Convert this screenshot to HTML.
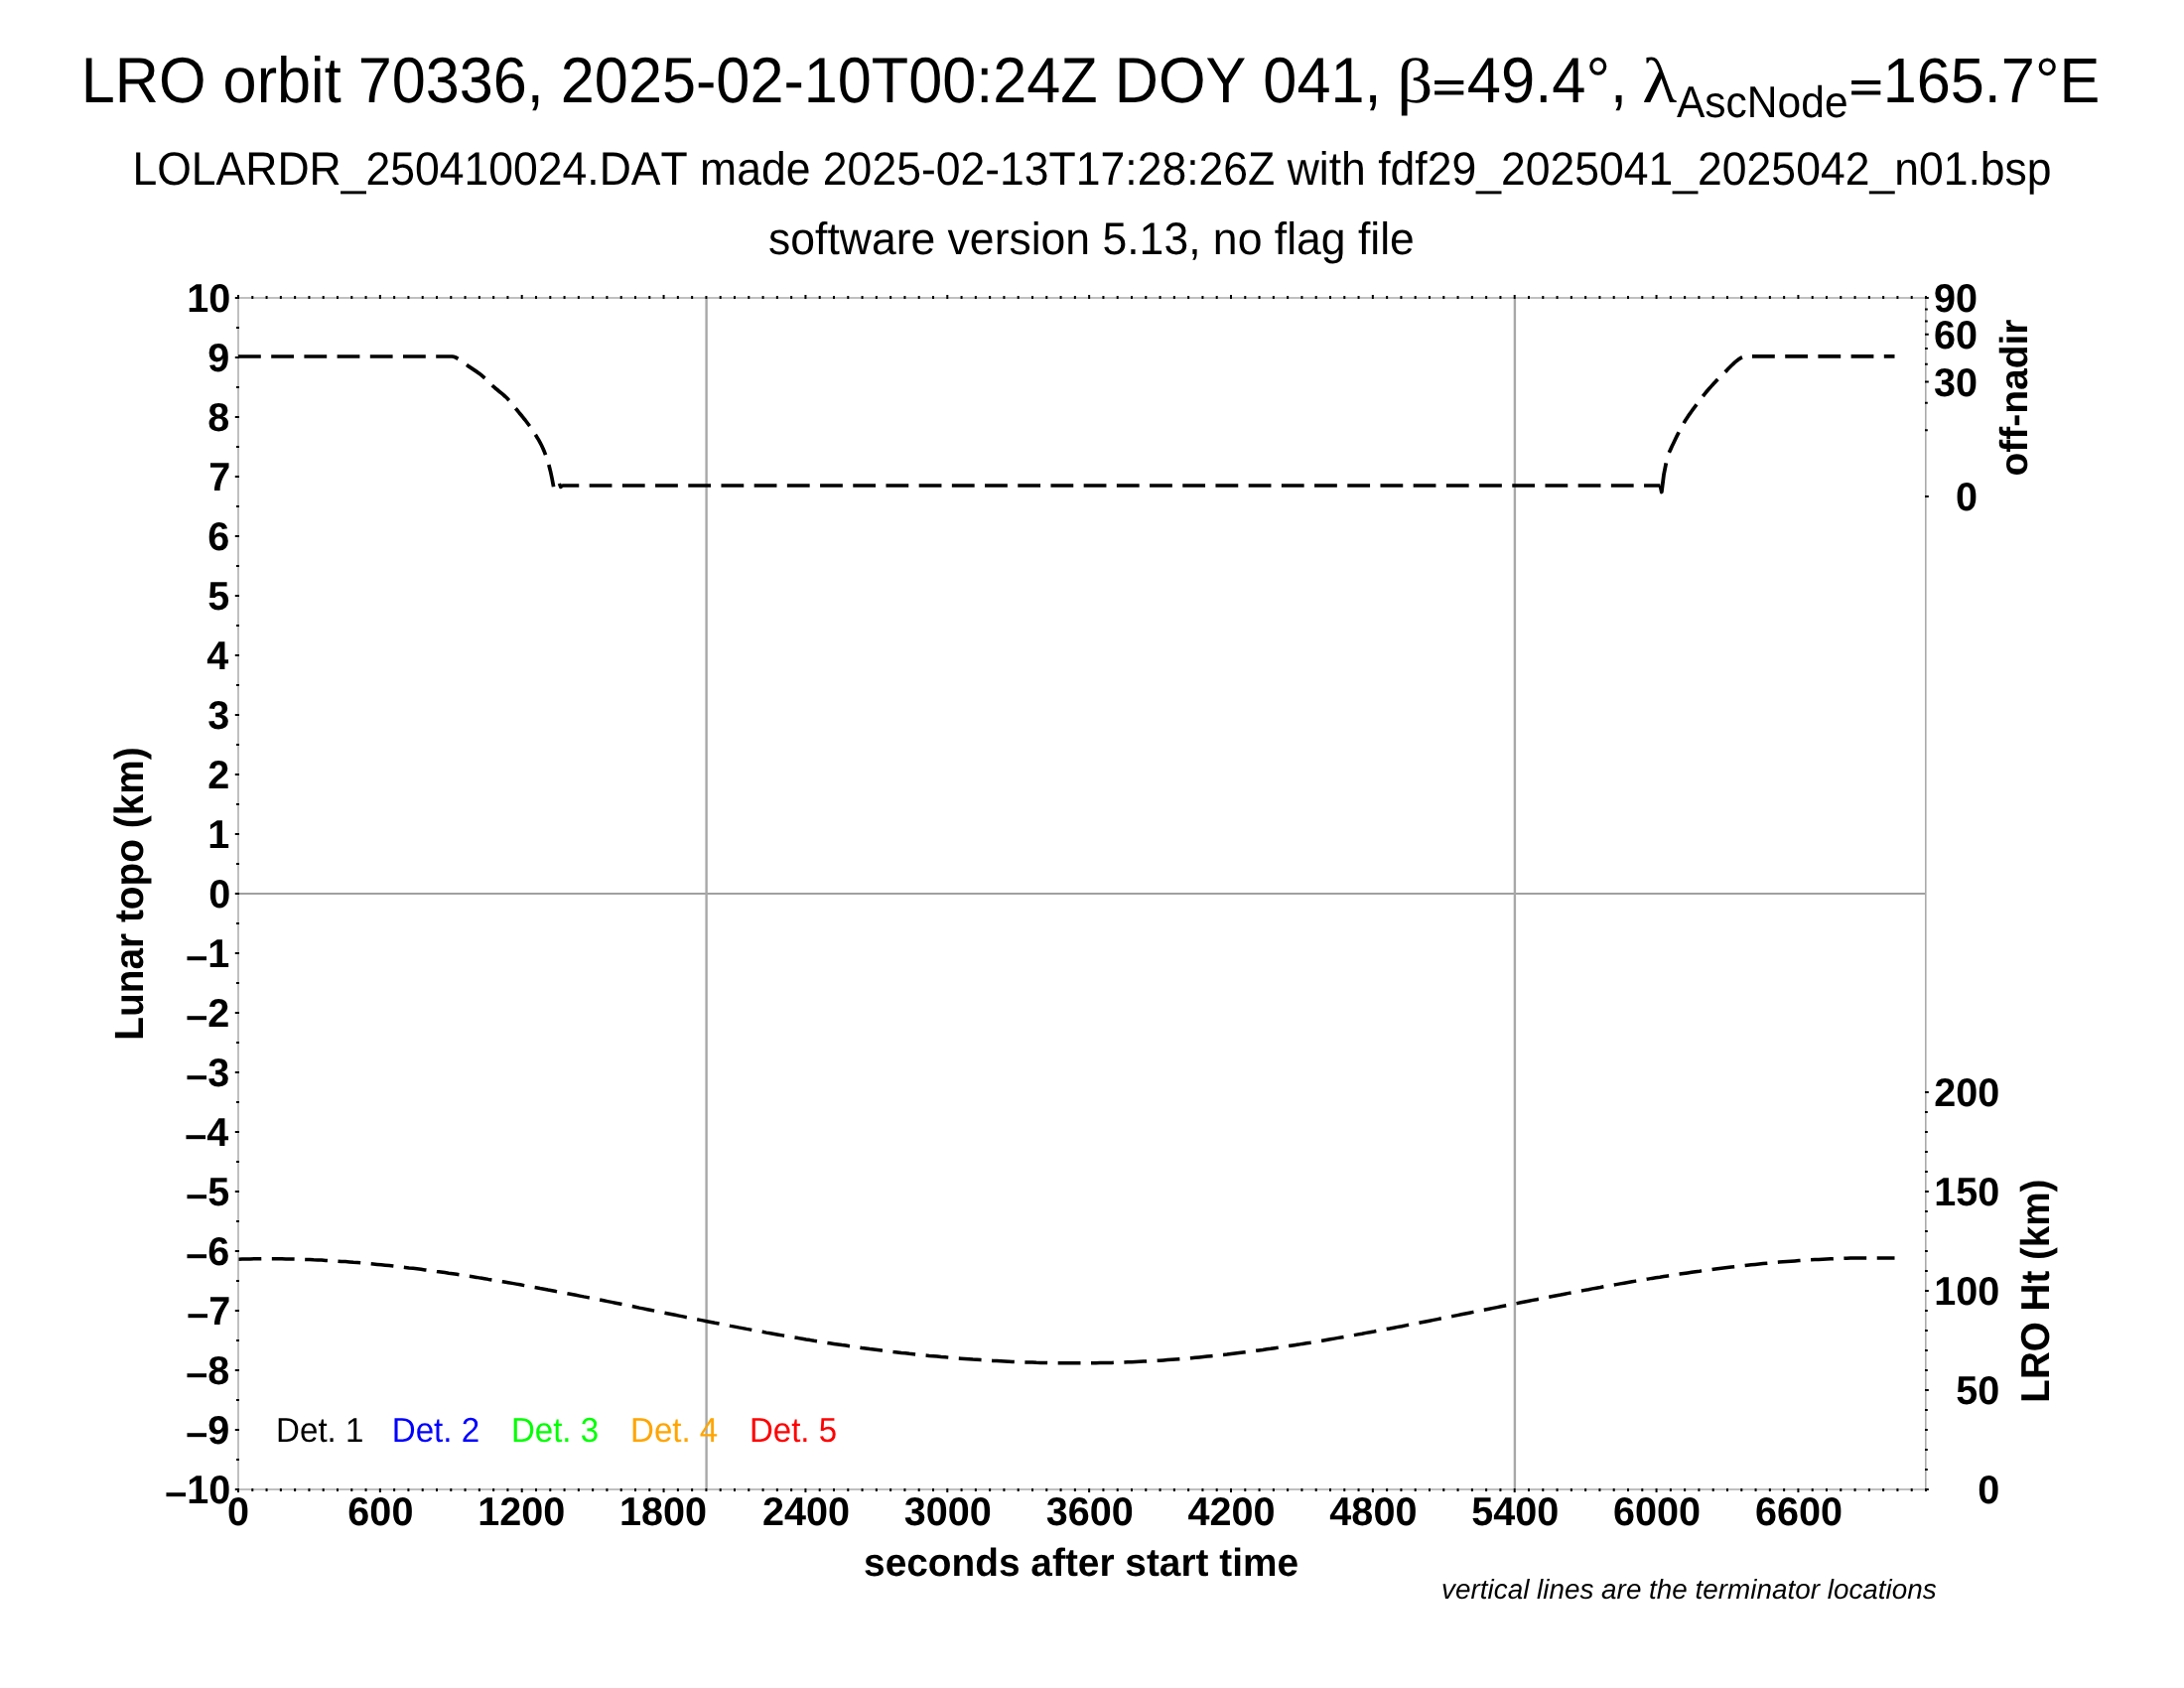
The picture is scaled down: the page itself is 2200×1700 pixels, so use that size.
<!DOCTYPE html>
<html><head><meta charset="utf-8"><title>LRO orbit 70336</title>
<style>html,body{margin:0;padding:0;background:#fff;width:2200px;height:1700px;overflow:hidden}svg{display:block;will-change:transform}text{font-kerning:none}</style>
</head><body>
<svg width="2200" height="1700" viewBox="0 0 2200 1700">
<rect width="2200" height="1700" fill="#fff"/>
<g fill="none">
<path d="M240 900H1940" stroke="#a0a0a0" stroke-width="2.2"/>
<path d="M711.6 300V1500" stroke="#a8a8a8" stroke-width="2.4"/>
<path d="M1525.9 300V1500" stroke="#a8a8a8" stroke-width="2.4"/>
<path d="M240 300V1500M240 300H1940M240 1500H1940" stroke="#c0c0c0" stroke-width="2"/>
<path d="M1939.5 299V1501" stroke="#aaaaaa" stroke-width="1"/><path d="M1940.5 299V1501" stroke="#cdcdcd" stroke-width="1"/>
<path d="M240.00 1499V1503.0M240.00 301V297.0M254.29 1499V1502.0M254.29 301V298.0M268.57 1499V1502.0M268.57 301V298.0M282.86 1499V1502.0M282.86 301V298.0M297.14 1499V1502.0M297.14 301V298.0M311.43 1499V1502.0M311.43 301V298.0M325.71 1499V1502.0M325.71 301V298.0M340.00 1499V1502.0M340.00 301V298.0M354.29 1499V1502.0M354.29 301V298.0M368.57 1499V1502.0M368.57 301V298.0M382.86 1499V1503.0M382.86 301V297.0M397.14 1499V1502.0M397.14 301V298.0M411.43 1499V1502.0M411.43 301V298.0M425.71 1499V1502.0M425.71 301V298.0M440.00 1499V1502.0M440.00 301V298.0M454.29 1499V1502.0M454.29 301V298.0M468.57 1499V1502.0M468.57 301V298.0M482.86 1499V1502.0M482.86 301V298.0M497.14 1499V1502.0M497.14 301V298.0M511.43 1499V1502.0M511.43 301V298.0M525.71 1499V1503.0M525.71 301V297.0M540.00 1499V1502.0M540.00 301V298.0M554.29 1499V1502.0M554.29 301V298.0M568.57 1499V1502.0M568.57 301V298.0M582.86 1499V1502.0M582.86 301V298.0M597.14 1499V1502.0M597.14 301V298.0M611.43 1499V1502.0M611.43 301V298.0M625.71 1499V1502.0M625.71 301V298.0M640.00 1499V1502.0M640.00 301V298.0M654.29 1499V1502.0M654.29 301V298.0M668.57 1499V1503.0M668.57 301V297.0M682.86 1499V1502.0M682.86 301V298.0M697.14 1499V1502.0M697.14 301V298.0M711.43 1499V1502.0M711.43 301V298.0M725.71 1499V1502.0M725.71 301V298.0M740.00 1499V1502.0M740.00 301V298.0M754.29 1499V1502.0M754.29 301V298.0M768.57 1499V1502.0M768.57 301V298.0M782.86 1499V1502.0M782.86 301V298.0M797.14 1499V1502.0M797.14 301V298.0M811.43 1499V1503.0M811.43 301V297.0M825.71 1499V1502.0M825.71 301V298.0M840.00 1499V1502.0M840.00 301V298.0M854.29 1499V1502.0M854.29 301V298.0M868.57 1499V1502.0M868.57 301V298.0M882.86 1499V1502.0M882.86 301V298.0M897.14 1499V1502.0M897.14 301V298.0M911.43 1499V1502.0M911.43 301V298.0M925.71 1499V1502.0M925.71 301V298.0M940.00 1499V1502.0M940.00 301V298.0M954.29 1499V1503.0M954.29 301V297.0M968.57 1499V1502.0M968.57 301V298.0M982.86 1499V1502.0M982.86 301V298.0M997.14 1499V1502.0M997.14 301V298.0M1011.43 1499V1502.0M1011.43 301V298.0M1025.71 1499V1502.0M1025.71 301V298.0M1040.00 1499V1502.0M1040.00 301V298.0M1054.29 1499V1502.0M1054.29 301V298.0M1068.57 1499V1502.0M1068.57 301V298.0M1082.86 1499V1502.0M1082.86 301V298.0M1097.14 1499V1503.0M1097.14 301V297.0M1111.43 1499V1502.0M1111.43 301V298.0M1125.71 1499V1502.0M1125.71 301V298.0M1140.00 1499V1502.0M1140.00 301V298.0M1154.29 1499V1502.0M1154.29 301V298.0M1168.57 1499V1502.0M1168.57 301V298.0M1182.86 1499V1502.0M1182.86 301V298.0M1197.14 1499V1502.0M1197.14 301V298.0M1211.43 1499V1502.0M1211.43 301V298.0M1225.71 1499V1502.0M1225.71 301V298.0M1240.00 1499V1503.0M1240.00 301V297.0M1254.29 1499V1502.0M1254.29 301V298.0M1268.57 1499V1502.0M1268.57 301V298.0M1282.86 1499V1502.0M1282.86 301V298.0M1297.14 1499V1502.0M1297.14 301V298.0M1311.43 1499V1502.0M1311.43 301V298.0M1325.71 1499V1502.0M1325.71 301V298.0M1340.00 1499V1502.0M1340.00 301V298.0M1354.29 1499V1502.0M1354.29 301V298.0M1368.57 1499V1502.0M1368.57 301V298.0M1382.86 1499V1503.0M1382.86 301V297.0M1397.14 1499V1502.0M1397.14 301V298.0M1411.43 1499V1502.0M1411.43 301V298.0M1425.71 1499V1502.0M1425.71 301V298.0M1440.00 1499V1502.0M1440.00 301V298.0M1454.29 1499V1502.0M1454.29 301V298.0M1468.57 1499V1502.0M1468.57 301V298.0M1482.86 1499V1502.0M1482.86 301V298.0M1497.14 1499V1502.0M1497.14 301V298.0M1511.43 1499V1502.0M1511.43 301V298.0M1525.71 1499V1503.0M1525.71 301V297.0M1540.00 1499V1502.0M1540.00 301V298.0M1554.29 1499V1502.0M1554.29 301V298.0M1568.57 1499V1502.0M1568.57 301V298.0M1582.86 1499V1502.0M1582.86 301V298.0M1597.14 1499V1502.0M1597.14 301V298.0M1611.43 1499V1502.0M1611.43 301V298.0M1625.71 1499V1502.0M1625.71 301V298.0M1640.00 1499V1502.0M1640.00 301V298.0M1654.29 1499V1502.0M1654.29 301V298.0M1668.57 1499V1503.0M1668.57 301V297.0M1682.86 1499V1502.0M1682.86 301V298.0M1697.14 1499V1502.0M1697.14 301V298.0M1711.43 1499V1502.0M1711.43 301V298.0M1725.71 1499V1502.0M1725.71 301V298.0M1740.00 1499V1502.0M1740.00 301V298.0M1754.29 1499V1502.0M1754.29 301V298.0M1768.57 1499V1502.0M1768.57 301V298.0M1782.86 1499V1502.0M1782.86 301V298.0M1797.14 1499V1502.0M1797.14 301V298.0M1811.43 1499V1503.0M1811.43 301V297.0M1825.71 1499V1502.0M1825.71 301V298.0M1840.00 1499V1502.0M1840.00 301V298.0M1854.29 1499V1502.0M1854.29 301V298.0M1868.57 1499V1502.0M1868.57 301V298.0M1882.86 1499V1502.0M1882.86 301V298.0M1897.14 1499V1502.0M1897.14 301V298.0M1911.43 1499V1502.0M1911.43 301V298.0M1925.71 1499V1502.0M1925.71 301V298.0M1940.00 1499V1502.0M1940.00 301V298.0M241.0 300.00H236.8M241.0 330.00H238.0M241.0 360.00H236.8M241.0 390.00H238.0M241.0 420.00H236.8M241.0 450.00H238.0M241.0 480.00H236.8M241.0 510.00H238.0M241.0 540.00H236.8M241.0 570.00H238.0M241.0 600.00H236.8M241.0 630.00H238.0M241.0 660.00H236.8M241.0 690.00H238.0M241.0 720.00H236.8M241.0 750.00H238.0M241.0 780.00H236.8M241.0 810.00H238.0M241.0 840.00H236.8M241.0 870.00H238.0M241.0 900.00H236.8M241.0 930.00H238.0M241.0 960.00H236.8M241.0 990.00H238.0M241.0 1020.00H236.8M241.0 1050.00H238.0M241.0 1080.00H236.8M241.0 1110.00H238.0M241.0 1140.00H236.8M241.0 1170.00H238.0M241.0 1200.00H236.8M241.0 1230.00H238.0M241.0 1260.00H236.8M241.0 1290.00H238.0M241.0 1320.00H236.8M241.0 1350.00H238.0M241.0 1380.00H236.8M241.0 1410.00H238.0M241.0 1440.00H236.8M241.0 1470.00H238.0M241.0 1500.00H236.8M1939.0 500.00H1942.8M1939.0 433.33H1941.8M1939.0 405.72H1941.8M1939.0 384.53H1942.8M1939.0 366.67H1941.8M1939.0 350.93H1941.8M1939.0 336.70H1942.8M1939.0 323.62H1941.8M1939.0 311.44H1941.8M1939.0 300.00H1942.8M1939.0 1500.00H1942.8M1939.0 1480.00H1941.8M1939.0 1460.00H1941.8M1939.0 1440.00H1941.8M1939.0 1420.00H1941.8M1939.0 1400.00H1942.8M1939.0 1380.00H1941.8M1939.0 1360.00H1941.8M1939.0 1340.00H1941.8M1939.0 1320.00H1941.8M1939.0 1300.00H1942.8M1939.0 1280.00H1941.8M1939.0 1260.00H1941.8M1939.0 1240.00H1941.8M1939.0 1220.00H1941.8M1939.0 1200.00H1942.8M1939.0 1180.00H1941.8M1939.0 1160.00H1941.8M1939.0 1140.00H1941.8M1939.0 1120.00H1941.8M1939.0 1100.00H1942.8" stroke="#000" stroke-width="2" fill="none"/>
<path d="M240.0 359.0 L455.5 359.0 L457.0 359.3 L458.5 359.8 L460.0 360.5 L461.5 361.3 L463.0 362.3 L464.5 363.3 L466.0 364.4 L467.5 365.6 L469.0 366.7 L470.5 367.8 L472.0 368.9 L473.5 369.9 L475.0 370.9 L476.5 371.9 L478.0 372.9 L479.5 373.9 L481.0 374.9 L482.5 376.0 L484.0 377.1 L485.5 378.3 L487.0 379.6 L488.5 380.9 L490.0 382.3 L491.5 383.8 L493.0 385.3 L494.5 386.8 L496.0 388.3 L497.5 389.7 L499.0 391.0 L500.5 392.2 L502.0 393.5 L503.5 394.7 L505.0 395.9 L506.5 397.2 L508.0 398.5 L509.5 399.8 L511.0 401.3 L512.5 402.9 L514.0 404.6 L515.5 406.4 L517.0 408.2 L518.5 410.1 L520.0 412.0 L521.5 413.8 L523.0 415.7 L524.5 417.5 L526.0 419.3 L527.5 421.2 L529.0 423.0 L530.5 425.0 L532.0 427.0 L533.5 429.0 L535.0 431.2 L536.5 433.4 L538.0 435.7 L539.5 438.0 L541.0 440.4 L542.5 442.9 L544.0 445.6 L545.5 448.5 L547.0 451.7 L548.5 455.3 L550.0 459.2 L551.5 463.6 L553.0 468.8 L554.5 474.7 L556.0 481.6 L557.5 489.6 L557.6 490.2" stroke="#000" stroke-width="3.7" fill="none" stroke-dasharray="22.8 10.4" stroke-linejoin="round"/>
<path d="M563.4 487.0 L564.7 490.5 L567.0 488.9 L1672.4 488.9" stroke="#000" stroke-width="3.5" fill="none" stroke-dasharray="22.8 10.4" stroke-linejoin="round"/>
<path d="M1681.3 455.8 L1682.8 452.6 L1684.3 449.3 L1685.8 446.2 L1687.3 443.0 L1688.8 439.9 L1690.3 436.9 L1691.8 433.9 L1693.3 431.1 L1694.8 428.4 L1696.3 425.8 L1697.8 423.3 L1699.3 421.0 L1700.8 418.7 L1702.3 416.6 L1703.8 414.5 L1705.3 412.4 L1706.8 410.4 L1708.3 408.4 L1709.8 406.4 L1711.3 404.4 L1712.8 402.4 L1714.3 400.5 L1715.8 398.5 L1717.3 396.6 L1718.8 394.8 L1720.3 393.0 L1721.8 391.3 L1723.3 389.6 L1724.8 387.9 L1726.3 386.3 L1727.8 384.7 L1729.3 383.1 L1730.8 381.6 L1732.3 380.1 L1733.8 378.6 L1735.3 377.1 L1736.8 375.6 L1738.3 374.1 L1739.8 372.6 L1741.3 371.0 L1742.8 369.5 L1744.3 368.0 L1745.8 366.6 L1747.3 365.2 L1748.8 363.9 L1750.3 362.7 L1751.8 361.6 L1753.3 360.7 L1754.8 359.8 L1756.3 359.2 L1757.8 358.6 L1759.3 358.3 L1760.8 358.2 L1762.3 358.3 L1763.8 358.6 L1764.4 358.8 L1908.5 358.8" stroke="#000" stroke-width="3.7" fill="none" stroke-dasharray="22.8 10.4" stroke-linejoin="round"/>
<path d="M1672.4 488.9 L1673.8 495.5 L1676.0 478.0 L1678.3 466.4" stroke="#000" stroke-width="3.8" fill="none" stroke-linejoin="round"/>
<path d="M240.0 1268.2 L244.0 1268.1 L248.0 1268.0 L252.0 1267.9 L256.0 1267.8 L260.0 1267.8 L264.0 1267.7 L268.0 1267.7 L272.0 1267.7 L276.0 1267.7 L280.0 1267.8 L284.0 1267.8 L288.0 1267.9 L292.0 1268.0 L296.0 1268.1 L300.0 1268.2 L304.0 1268.3 L308.0 1268.4 L312.0 1268.6 L316.0 1268.8 L320.0 1268.9 L324.0 1269.1 L328.0 1269.4 L332.0 1269.6 L336.0 1269.8 L340.0 1270.1 L344.0 1270.4 L348.0 1270.6 L352.0 1270.9 L356.0 1271.3 L360.0 1271.6 L364.0 1271.9 L368.0 1272.3 L372.0 1272.6 L376.0 1273.0 L380.0 1273.4 L384.0 1273.8 L388.0 1274.2 L392.0 1274.6 L396.0 1275.0 L400.0 1275.5 L404.0 1275.9 L408.0 1276.4 L412.0 1276.9 L416.0 1277.3 L420.0 1277.8 L424.0 1278.3 L428.0 1278.9 L432.0 1279.4 L436.0 1279.9 L440.0 1280.5 L444.0 1281.0 L448.0 1281.6 L452.0 1282.2 L456.0 1282.7 L460.0 1283.3 L464.0 1283.9 L468.0 1284.5 L472.0 1285.2 L476.0 1285.8 L480.0 1286.4 L484.0 1287.1 L488.0 1287.7 L492.0 1288.4 L496.0 1289.0 L500.0 1289.7 L504.0 1290.4 L508.0 1291.0 L512.0 1291.7 L516.0 1292.4 L520.0 1293.1 L524.0 1293.8 L528.0 1294.6 L532.0 1295.3 L536.0 1296.0 L540.0 1296.7 L544.0 1297.5 L548.0 1298.2 L552.0 1299.0 L556.0 1299.7 L560.0 1300.5 L564.0 1301.2 L568.0 1302.0 L572.0 1302.8 L576.0 1303.5 L580.0 1304.3 L584.0 1305.1 L588.0 1305.9 L592.0 1306.6 L596.0 1307.4 L600.0 1308.2 L604.0 1309.0 L608.0 1309.8 L612.0 1310.6 L616.0 1311.4 L620.0 1312.2 L624.0 1313.0 L628.0 1313.8 L632.0 1314.6 L636.0 1315.4 L640.0 1316.2 L644.0 1317.1 L648.0 1317.9 L652.0 1318.7 L656.0 1319.5 L660.0 1320.3 L664.0 1321.1 L668.0 1321.9 L672.0 1322.7 L676.0 1323.5 L680.0 1324.3 L684.0 1325.1 L688.0 1325.9 L692.0 1326.7 L696.0 1327.5 L700.0 1328.3 L704.0 1329.1 L708.0 1329.9 L712.0 1330.7 L716.0 1331.5 L720.0 1332.3 L724.0 1333.0 L728.0 1333.8 L732.0 1334.6 L736.0 1335.4 L740.0 1336.1 L744.0 1336.9 L748.0 1337.6 L752.0 1338.4 L756.0 1339.1 L760.0 1339.9 L764.0 1340.6 L768.0 1341.3 L772.0 1342.1 L776.0 1342.8 L780.0 1343.5 L784.0 1344.2 L788.0 1344.9 L792.0 1345.6 L796.0 1346.3 L800.0 1347.0 L804.0 1347.6 L808.0 1348.3 L812.0 1349.0 L816.0 1349.6 L820.0 1350.3 L824.0 1350.9 L828.0 1351.5 L832.0 1352.2 L836.0 1352.8 L840.0 1353.4 L844.0 1354.0 L848.0 1354.6 L852.0 1355.1 L856.0 1355.7 L860.0 1356.3 L864.0 1356.8 L868.0 1357.4 L872.0 1357.9 L876.0 1358.5 L880.0 1359.0 L884.0 1359.5 L888.0 1360.0 L892.0 1360.5 L896.0 1361.0 L900.0 1361.5 L904.0 1361.9 L908.0 1362.4 L912.0 1362.8 L916.0 1363.3 L920.0 1363.7 L924.0 1364.1 L928.0 1364.6 L932.0 1365.0 L936.0 1365.4 L940.0 1365.7 L944.0 1366.1 L948.0 1366.5 L952.0 1366.8 L956.0 1367.2 L960.0 1367.5 L964.0 1367.9 L968.0 1368.2 L972.0 1368.5 L976.0 1368.8 L980.0 1369.1 L984.0 1369.3 L988.0 1369.6 L992.0 1369.9 L996.0 1370.1 L1000.0 1370.4 L1004.0 1370.6 L1008.0 1370.8 L1012.0 1371.0 L1016.0 1371.2 L1020.0 1371.4 L1024.0 1371.6 L1028.0 1371.7 L1032.0 1371.9 L1036.0 1372.0 L1040.0 1372.1 L1044.0 1372.3 L1048.0 1372.4 L1052.0 1372.5 L1056.0 1372.6 L1060.0 1372.6 L1064.0 1372.7 L1068.0 1372.7 L1072.0 1372.8 L1076.0 1372.8 L1080.0 1372.8 L1084.0 1372.8 L1088.0 1372.8 L1092.0 1372.8 L1096.0 1372.8 L1100.0 1372.7 L1104.0 1372.7 L1108.0 1372.6 L1112.0 1372.5 L1116.0 1372.5 L1120.0 1372.4 L1124.0 1372.2 L1128.0 1372.1 L1132.0 1372.0 L1136.0 1371.8 L1140.0 1371.7 L1144.0 1371.5 L1148.0 1371.3 L1152.0 1371.1 L1156.0 1370.9 L1160.0 1370.7 L1164.0 1370.4 L1168.0 1370.2 L1172.0 1369.9 L1176.0 1369.6 L1180.0 1369.3 L1184.0 1369.0 L1188.0 1368.7 L1192.0 1368.4 L1196.0 1368.0 L1200.0 1367.7 L1204.0 1367.3 L1208.0 1366.9 L1212.0 1366.5 L1216.0 1366.1 L1220.0 1365.7 L1224.0 1365.3 L1228.0 1364.9 L1232.0 1364.4 L1236.0 1364.0 L1240.0 1363.5 L1244.0 1363.0 L1248.0 1362.5 L1252.0 1362.0 L1256.0 1361.5 L1260.0 1361.0 L1264.0 1360.5 L1268.0 1359.9 L1272.0 1359.4 L1276.0 1358.8 L1280.0 1358.3 L1284.0 1357.7 L1288.0 1357.1 L1292.0 1356.5 L1296.0 1355.9 L1300.0 1355.3 L1304.0 1354.7 L1308.0 1354.1 L1312.0 1353.4 L1316.0 1352.8 L1320.0 1352.2 L1324.0 1351.5 L1328.0 1350.8 L1332.0 1350.2 L1336.0 1349.5 L1340.0 1348.8 L1344.0 1348.1 L1348.0 1347.4 L1352.0 1346.7 L1356.0 1346.0 L1360.0 1345.3 L1364.0 1344.6 L1368.0 1343.9 L1372.0 1343.2 L1376.0 1342.4 L1380.0 1341.7 L1384.0 1341.0 L1388.0 1340.2 L1392.0 1339.5 L1396.0 1338.7 L1400.0 1338.0 L1404.0 1337.2 L1408.0 1336.4 L1412.0 1335.7 L1416.0 1334.9 L1420.0 1334.1 L1424.0 1333.3 L1428.0 1332.6 L1432.0 1331.8 L1436.0 1331.0 L1440.0 1330.2 L1444.0 1329.4 L1448.0 1328.6 L1452.0 1327.8 L1456.0 1327.0 L1460.0 1326.2 L1464.0 1325.4 L1468.0 1324.6 L1472.0 1323.8 L1476.0 1323.0 L1480.0 1322.2 L1484.0 1321.4 L1488.0 1320.6 L1492.0 1319.8 L1496.0 1319.0 L1500.0 1318.2 L1504.0 1317.4 L1508.0 1316.6 L1512.0 1315.8 L1516.0 1315.0 L1520.0 1314.2 L1524.0 1313.4 L1528.0 1312.6 L1532.0 1311.8 L1536.0 1311.0 L1540.0 1310.2 L1544.0 1309.4 L1548.0 1308.7 L1552.0 1307.9 L1556.0 1307.1 L1560.0 1306.3 L1564.0 1305.5 L1568.0 1304.7 L1572.0 1304.0 L1576.0 1303.2 L1580.0 1302.4 L1584.0 1301.7 L1588.0 1300.9 L1592.0 1300.2 L1596.0 1299.4 L1600.0 1298.7 L1604.0 1297.9 L1608.0 1297.2 L1612.0 1296.5 L1616.0 1295.7 L1620.0 1295.0 L1624.0 1294.3 L1628.0 1293.6 L1632.0 1292.9 L1636.0 1292.2 L1640.0 1291.5 L1644.0 1290.8 L1648.0 1290.1 L1652.0 1289.4 L1656.0 1288.8 L1660.0 1288.1 L1664.0 1287.4 L1668.0 1286.8 L1672.0 1286.2 L1676.0 1285.5 L1680.0 1284.9 L1684.0 1284.3 L1688.0 1283.7 L1692.0 1283.1 L1696.0 1282.5 L1700.0 1281.9 L1704.0 1281.3 L1708.0 1280.7 L1712.0 1280.2 L1716.0 1279.6 L1720.0 1279.1 L1724.0 1278.6 L1728.0 1278.0 L1732.0 1277.5 L1736.0 1277.0 L1740.0 1276.5 L1744.0 1276.0 L1748.0 1275.6 L1752.0 1275.1 L1756.0 1274.7 L1760.0 1274.2 L1764.0 1273.8 L1768.0 1273.4 L1772.0 1273.0 L1776.0 1272.6 L1780.0 1272.2 L1784.0 1271.8 L1788.0 1271.5 L1792.0 1271.1 L1796.0 1270.8 L1800.0 1270.5 L1804.0 1270.2 L1808.0 1269.9 L1812.0 1269.6 L1816.0 1269.3 L1820.0 1269.0 L1824.0 1268.8 L1828.0 1268.6 L1832.0 1268.4 L1836.0 1268.2 L1840.0 1268.0 L1844.0 1267.8 L1848.0 1267.6 L1852.0 1267.5 L1856.0 1267.4 L1860.0 1267.2 L1864.0 1267.1 L1868.0 1267.1 L1872.0 1267.0 L1876.0 1266.9 L1880.0 1266.9 L1884.0 1266.9 L1888.0 1266.9 L1892.0 1266.9 L1896.0 1266.9 L1900.0 1267.0 L1904.0 1267.0 L1908.0 1267.1 L1908.5 1267.1" stroke="#000" stroke-width="3.5" fill="none" stroke-dasharray="22.8 10.54" stroke-dashoffset="-0.5" stroke-linejoin="round"/>
</g>
<g text-rendering="geometricPrecision">
<text transform="matrix(1.0032 0 0 1.0620 81.78 103.10)" font-family="Liberation Sans" font-size="61" font-weight="normal" font-style="normal" fill="#000">LRO orbit 70336, 2025-02-10T00:24Z DOY 041,</text>
<text transform="matrix(1.1667 0 0 1.0429 1407.23 102.74)" font-family="Liberation Serif" font-size="61" font-weight="normal" font-style="normal" fill="#000">β</text>
<text transform="matrix(0.9400 0 0 0.6850 1442.88 102.35)" font-family="Liberation Sans" font-size="61" font-weight="normal" font-style="normal" fill="#000" stroke="#000" stroke-width="1.4">=</text>
<text transform="matrix(1.0078 0 0 1.0620 1477.79 103.10)" font-family="Liberation Sans" font-size="61" font-weight="normal" font-style="normal" fill="#000">49.4°,</text>
<text transform="matrix(1.1815 0 0 1.0605 1654.14 103.30)" font-family="Liberation Serif" font-size="61" font-weight="normal" font-style="normal" fill="#000">λ</text>
<text transform="matrix(0.9896 0 0 1.0381 1688.90 117.60)" font-family="Liberation Sans" font-size="43" font-weight="normal" font-style="normal" fill="#000">AscNode</text>
<text transform="matrix(0.9400 0 0 0.6850 1862.98 102.35)" font-family="Liberation Sans" font-size="61" font-weight="normal" font-style="normal" fill="#000" stroke="#000" stroke-width="1.4">=</text>
<text transform="matrix(1.0040 0 0 1.0478 1896.64 103.00)" font-family="Liberation Sans" font-size="61" font-weight="normal" font-style="normal" fill="#000">165.7°E</text>
<text transform="matrix(0.9984 0 0 1.0561 133.41 186.20)" font-family="Liberation Sans" font-size="44.6" font-weight="normal" font-style="normal" fill="#000">LOLARDR_250410024.DAT made 2025-02-13T17:28:26Z with fdf29_2025041_2025042_n01.bsp</text>
<text transform="matrix(0.9983 0 0 1.0245 774.00 256.00)" font-family="Liberation Sans" font-size="44.6" font-weight="normal" font-style="normal" fill="#000">software version 5.13, no flag file</text>
<text transform="matrix(0.9955 0 0 1.0114 870.06 1586.90)" font-family="Liberation Sans" font-size="39" font-weight="bold" font-style="normal" fill="#000">seconds after start time</text>
<text transform="matrix(0.9950 0 0 0.9921 1452.08 1609.90)" font-family="Liberation Sans" font-size="28" font-weight="normal" font-style="italic" fill="#000">vertical lines are the terminator locations</text>
<text transform="matrix(1.0030 0 0 1.0518 278.09 1451.75)" font-family="Liberation Sans" font-size="33" font-weight="normal" font-style="normal" fill="#000000">Det. 1</text>
<text transform="matrix(1.0060 0 0 1.0518 394.68 1451.75)" font-family="Liberation Sans" font-size="33" font-weight="normal" font-style="normal" fill="#0000ff">Det. 2</text>
<text transform="matrix(1.0012 0 0 1.0518 514.90 1451.75)" font-family="Liberation Sans" font-size="33" font-weight="normal" font-style="normal" fill="#00ff00">Det. 3</text>
<text transform="matrix(1.0024 0 0 1.0518 634.99 1451.75)" font-family="Liberation Sans" font-size="33" font-weight="normal" font-style="normal" fill="#ffa500">Det. 4</text>
<text transform="matrix(1.0012 0 0 1.0518 754.90 1451.75)" font-family="Liberation Sans" font-size="33" font-weight="normal" font-style="normal" fill="#ff0000">Det. 5</text>
<text transform="matrix(0 -0.9952 1.0479 0 144.00 1047.69)" font-family="Liberation Sans" font-size="39" font-weight="bold" fill="#000">Lunar topo (km)</text>
<text transform="matrix(0 -0.9994 1.0007 0 2041.90 479.60)" font-family="Liberation Sans" font-size="39" font-weight="bold" fill="#000">off-nadir</text>
<text transform="matrix(0 -0.9897 1.0368 0 2063.80 1412.67)" font-family="Liberation Sans" font-size="39" font-weight="bold" fill="#000">LRO Ht (km)</text>
<text transform="matrix(1 0 0 1.0172 188.20 314.20)" font-family="Liberation Sans" font-size="39.6" font-weight="bold">10</text>
<text transform="matrix(1 0 0 1.0172 209.20 374.20)" font-family="Liberation Sans" font-size="39.6" font-weight="bold">9</text>
<text transform="matrix(1 0 0 1.0172 209.20 434.20)" font-family="Liberation Sans" font-size="39.6" font-weight="bold">8</text>
<text transform="matrix(1 0 0 1.0172 210.20 494.20)" font-family="Liberation Sans" font-size="39.6" font-weight="bold">7</text>
<text transform="matrix(1 0 0 1.0172 209.20 554.20)" font-family="Liberation Sans" font-size="39.6" font-weight="bold">6</text>
<text transform="matrix(1 0 0 1.0172 209.20 614.20)" font-family="Liberation Sans" font-size="39.6" font-weight="bold">5</text>
<text transform="matrix(1 0 0 1.0172 208.20 674.20)" font-family="Liberation Sans" font-size="39.6" font-weight="bold">4</text>
<text transform="matrix(1 0 0 1.0172 209.20 734.20)" font-family="Liberation Sans" font-size="39.6" font-weight="bold">3</text>
<text transform="matrix(1 0 0 1.0172 209.20 794.20)" font-family="Liberation Sans" font-size="39.6" font-weight="bold">2</text>
<text transform="matrix(1 0 0 1.0172 209.20 854.20)" font-family="Liberation Sans" font-size="39.6" font-weight="bold">1</text>
<text transform="matrix(1 0 0 1.0172 210.20 914.20)" font-family="Liberation Sans" font-size="39.6" font-weight="bold">0</text>
<text transform="matrix(1 0 0 1.0172 187.20 974.20)" font-family="Liberation Sans" font-size="39.6" font-weight="bold"><tspan dy="1.8">–</tspan><tspan dy="-1.8">1</tspan></text>
<text transform="matrix(1 0 0 1.0172 187.20 1034.20)" font-family="Liberation Sans" font-size="39.6" font-weight="bold"><tspan dy="1.8">–</tspan><tspan dy="-1.8">2</tspan></text>
<text transform="matrix(1 0 0 1.0172 187.20 1094.20)" font-family="Liberation Sans" font-size="39.6" font-weight="bold"><tspan dy="1.8">–</tspan><tspan dy="-1.8">3</tspan></text>
<text transform="matrix(1 0 0 1.0172 186.20 1154.20)" font-family="Liberation Sans" font-size="39.6" font-weight="bold"><tspan dy="1.8">–</tspan><tspan dy="-1.8">4</tspan></text>
<text transform="matrix(1 0 0 1.0172 187.20 1214.20)" font-family="Liberation Sans" font-size="39.6" font-weight="bold"><tspan dy="1.8">–</tspan><tspan dy="-1.8">5</tspan></text>
<text transform="matrix(1 0 0 1.0172 187.20 1274.20)" font-family="Liberation Sans" font-size="39.6" font-weight="bold"><tspan dy="1.8">–</tspan><tspan dy="-1.8">6</tspan></text>
<text transform="matrix(1 0 0 1.0172 188.20 1334.20)" font-family="Liberation Sans" font-size="39.6" font-weight="bold"><tspan dy="1.8">–</tspan><tspan dy="-1.8">7</tspan></text>
<text transform="matrix(1 0 0 1.0172 187.20 1394.20)" font-family="Liberation Sans" font-size="39.6" font-weight="bold"><tspan dy="1.8">–</tspan><tspan dy="-1.8">8</tspan></text>
<text transform="matrix(1 0 0 1.0172 187.20 1454.20)" font-family="Liberation Sans" font-size="39.6" font-weight="bold"><tspan dy="1.8">–</tspan><tspan dy="-1.8">9</tspan></text>
<text transform="matrix(1 0 0 1.0172 166.20 1514.20)" font-family="Liberation Sans" font-size="39.6" font-weight="bold"><tspan dy="1.8">–</tspan><tspan dy="-1.8">10</tspan></text>
<text transform="matrix(1 0 0 1.0172 1948.00 314.20)" font-family="Liberation Sans" font-size="39.6" font-weight="bold">90</text>
<text transform="matrix(1 0 0 1.0172 1948.00 350.90)" font-family="Liberation Sans" font-size="39.6" font-weight="bold">60</text>
<text transform="matrix(1 0 0 1.0172 1948.00 398.73)" font-family="Liberation Sans" font-size="39.6" font-weight="bold">30</text>
<text transform="matrix(1 0 0 1.0172 1970.00 514.20)" font-family="Liberation Sans" font-size="39.6" font-weight="bold">0</text>
<text transform="matrix(1 0 0 1.0172 1948.20 1114.20)" font-family="Liberation Sans" font-size="39.6" font-weight="bold">200</text>
<text transform="matrix(1 0 0 1.0172 1948.20 1214.20)" font-family="Liberation Sans" font-size="39.6" font-weight="bold">150</text>
<text transform="matrix(1 0 0 1.0172 1948.20 1314.20)" font-family="Liberation Sans" font-size="39.6" font-weight="bold">100</text>
<text transform="matrix(1 0 0 1.0172 1970.20 1414.20)" font-family="Liberation Sans" font-size="39.6" font-weight="bold">50</text>
<text transform="matrix(1 0 0 1.0172 1992.20 1514.20)" font-family="Liberation Sans" font-size="39.6" font-weight="bold">0</text>
<text transform="matrix(1 0 0 1.0172 229.00 1536.10)" font-family="Liberation Sans" font-size="39.6" font-weight="bold">0</text>
<text transform="matrix(1 0 0 1.0172 350.36 1536.10)" font-family="Liberation Sans" font-size="39.6" font-weight="bold">600</text>
<text transform="matrix(1 0 0 1.0172 481.21 1536.10)" font-family="Liberation Sans" font-size="39.6" font-weight="bold">1200</text>
<text transform="matrix(1 0 0 1.0172 624.07 1536.10)" font-family="Liberation Sans" font-size="39.6" font-weight="bold">1800</text>
<text transform="matrix(1 0 0 1.0172 767.93 1536.10)" font-family="Liberation Sans" font-size="39.6" font-weight="bold">2400</text>
<text transform="matrix(1 0 0 1.0172 910.79 1536.10)" font-family="Liberation Sans" font-size="39.6" font-weight="bold">3000</text>
<text transform="matrix(1 0 0 1.0172 1053.64 1536.10)" font-family="Liberation Sans" font-size="39.6" font-weight="bold">3600</text>
<text transform="matrix(1 0 0 1.0172 1196.50 1536.10)" font-family="Liberation Sans" font-size="39.6" font-weight="bold">4200</text>
<text transform="matrix(1 0 0 1.0172 1339.36 1536.10)" font-family="Liberation Sans" font-size="39.6" font-weight="bold">4800</text>
<text transform="matrix(1 0 0 1.0172 1482.21 1536.10)" font-family="Liberation Sans" font-size="39.6" font-weight="bold">5400</text>
<text transform="matrix(1 0 0 1.0172 1625.07 1536.10)" font-family="Liberation Sans" font-size="39.6" font-weight="bold">6000</text>
<text transform="matrix(1 0 0 1.0172 1767.93 1536.10)" font-family="Liberation Sans" font-size="39.6" font-weight="bold">6600</text>
</g>
</svg>
</body></html>
